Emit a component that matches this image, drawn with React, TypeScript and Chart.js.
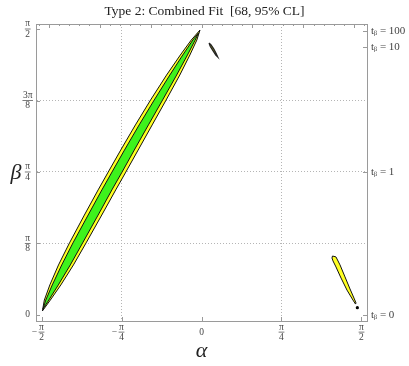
import React, { useEffect, useRef } from "react";
import { Chart, registerables } from "chart.js";

Chart.register(...registerables);

const PI = Math.PI;
const SERIF = "'Liberation Serif', 'DejaVu Serif', serif";

const chartTitle = "Type 2: Combined Fit  [68, 95% CL]";
const xAxisTitle = "α";
const yAxisTitle = "β";

const xTickValues = [-PI / 2, -PI / 4, 0, PI / 4, PI / 2];
const xTickLabels = ["−π/2", "−π/4", "0", "π/4", "π/2"];
const yTickValues = [0, PI / 8, PI / 4, (3 * PI) / 8, PI / 2];
const yTickLabels = ["0", "π/8", "π/4", "3π/8", "π/2"];
const tBetaValues = [0, 1, 10, 100];
const tBetaLabels = ["tᵦ = 0", "tᵦ = 1", "tᵦ = 10", "tᵦ = 100"];
const topMajorTicks = [-1.5, -1, -0.5, 0, 0.5, 1, 1.5];
const topMinorTicks = [-1.6, -1.4, -1.3, -1.2, -1.1, -0.9, -0.8, -0.7, -0.6, -0.4, -0.3, -0.2, -0.1,
  0.1, 0.2, 0.3, 0.4, 0.6, 0.7, 0.8, 0.9, 1.1, 1.2, 1.3, 1.4, 1.6];

// contour outlines [alpha, beta]
const cl68Main: number[][] = [
  [-1.556, 0.033], [-1.499, 0.082], [-1.406, 0.165], [-1.288, 0.275], [-1.167, 0.396],
  [-1.015, 0.549], [-0.880, 0.687], [-0.780, 0.785], [-0.660, 0.906], [-0.521, 1.044],
  [-0.382, 1.181], [-0.244, 1.318], [-0.138, 1.428], [-0.062, 1.510], [-0.029, 1.549],
  [-0.085, 1.510], [-0.184, 1.428], [-0.311, 1.318], [-0.464, 1.181], [-0.612, 1.044],
  [-0.756, 0.906], [-0.879, 0.785], [-0.978, 0.687], [-1.113, 0.549], [-1.262, 0.396],
  [-1.372, 0.275], [-1.465, 0.165], [-1.529, 0.082],
];
const cl95Main: number[][] = [
  [-1.562, 0.022], [-1.484, 0.082], [-1.381, 0.165], [-1.257, 0.275], [-1.133, 0.396],
  [-0.979, 0.549], [-0.842, 0.687], [-0.743, 0.785], [-0.622, 0.906], [-0.484, 1.044],
  [-0.347, 1.181], [-0.213, 1.318], [-0.114, 1.428], [-0.046, 1.510], [-0.015, 1.565],
  [-0.101, 1.510], [-0.208, 1.428], [-0.343, 1.318], [-0.500, 1.181], [-0.649, 1.044],
  [-0.793, 0.906], [-0.916, 0.785], [-1.015, 0.687], [-1.150, 0.549], [-1.296, 0.396],
  [-1.404, 0.275], [-1.489, 0.165], [-1.543, 0.082],
];
const cl95Upper: number[][] = [
  [0.074, 1.494], [0.094, 1.484], [0.120, 1.462], [0.143, 1.438], [0.160, 1.417],
  [0.140, 1.428], [0.112, 1.452], [0.085, 1.476],
];
const cl95Lower: number[][] = [
  [1.286, 0.324], [1.320, 0.319], [1.360, 0.275], [1.409, 0.209], [1.458, 0.143],
  [1.497, 0.093], [1.517, 0.066], [1.512, 0.060], [1.487, 0.082], [1.428, 0.137],
  [1.370, 0.203], [1.320, 0.264], [1.291, 0.297], [1.281, 0.313],
];
const isolatedPoint: number[][] = [[1.530, 0.040]];

const YELLOW = "#FFFF22";
const GREEN = "#3EF21C";
const FRAME = "#9a9a9a";
const GRID = "#b5b5b5";
const LABEL = "#444";

const X_MIN = -1.6248, X_MAX = 1.6248;
const Y_MIN = -0.033, Y_MAX = 1.5983;

function fracLines(label: string): string | string[] {
  const s = label.replace("−", "");
  if (s.includes("/")) return s.split("/");
  return s;
}

const toXY = (pts: number[][], close: boolean) => {
  const d = pts.map(([x, y]) => ({ x, y }));
  if (close) d.push({ x: pts[0][0], y: pts[0][1] });
  return d;
};

const isInterior = (v: number) => Math.abs(v) > 1e-6 && Math.abs(Math.abs(v) - PI / 2) > 1e-6;

const decorPlugin = {
  id: "decor",
  afterDraw(chart: any) {
    const ctx = chart.ctx;
    const area = chart.chartArea;
    const sx = chart.scales.x, sy = chart.scales.y;
    ctx.save();
    // inward frame ticks
    ctx.strokeStyle = FRAME;
    ctx.lineWidth = 1;
    const hTick = (v: number, yEdge: number, len: number) => {
      const px = Math.round(sx.getPixelForValue(v)) + 0.5;
      ctx.beginPath(); ctx.moveTo(px, yEdge); ctx.lineTo(px, yEdge + len); ctx.stroke();
    };
    const vTick = (v: number, xEdge: number, len: number) => {
      const py = Math.round(sy.getPixelForValue(v)) + 0.5;
      ctx.beginPath(); ctx.moveTo(xEdge, py); ctx.lineTo(xEdge + len, py); ctx.stroke();
    };
    xTickValues.forEach((v) => hTick(v, area.bottom, -4));
    topMajorTicks.forEach((v) => hTick(v, area.top, 4));
    topMinorTicks.forEach((v) => hTick(v, area.top, 2));
    yTickValues.forEach((v) => vTick(v, area.left, 4));
    tBetaValues.forEach((t) => vTick(Math.atan(t), area.right, -4));

    // fraction bars and minus signs
    const fracScales: [any, string[]][] = [[sx, xTickLabels], [sy, yTickLabels]];
    fracScales.forEach(([scale, labels]) => {
      const items = scale.getLabelItems();
      items.forEach((item: any, i: number) => {
        if (!Array.isArray(item.label) || item.label.length !== 2) return;
        ctx.font = item.font.string;
        const w = Math.max(...item.label.map((l: string) => ctx.measureText(l).width));
        const [tx, ty] = item.options.translation;
        const barY = ty + item.textOffset + item.font.lineHeight / 2;
        ctx.strokeStyle = LABEL;
        ctx.lineWidth = 0.7;
        ctx.beginPath();
        ctx.moveTo(tx - w / 2 - 0.5, barY);
        ctx.lineTo(tx + w / 2 + 0.5, barY);
        ctx.stroke();
        if (labels[i] && labels[i].startsWith("−")) {
          ctx.fillStyle = LABEL;
          ctx.textAlign = "right";
          ctx.textBaseline = "middle";
          ctx.fillText("−", tx - w / 2 - 2, barY);
        }
      });
    });

    // beta axis title (upright, not rotated)
    ctx.fillStyle = "#222";
    ctx.font = `italic 22px ${SERIF}`;
    ctx.textAlign = "center";
    ctx.textBaseline = "middle";
    ctx.fillText(yAxisTitle, 16, (area.top + area.bottom) / 2 + 0.5);
    ctx.restore();
  },
};

export default function App() {
  const ref = useRef<HTMLCanvasElement | null>(null);
  useEffect(() => {
    if (!ref.current) return;
    const tickFont = { family: SERIF, size: 9.5, lineHeight: 1.08 };
    const chart = new Chart(ref.current, {
      type: "scatter",
      data: {
        datasets: [
          { data: isolatedPoint.map(([x, y]) => ({ x, y })), showLine: false, pointRadius: 1.6, pointBackgroundColor: "#000", pointBorderWidth: 0 },
          { data: toXY(cl68Main, true), showLine: true, fill: "shape", backgroundColor: GREEN, borderColor: "#111", borderWidth: 1 },
          { data: toXY(cl95Main, true), showLine: true, fill: "shape", backgroundColor: YELLOW, borderColor: "#111", borderWidth: 1 },
          { data: toXY(cl95Upper, true), showLine: true, fill: "shape", backgroundColor: "#8a8a20", borderColor: "#222", borderWidth: 1.2 },
          { data: toXY(cl95Lower, true), showLine: true, fill: "shape", backgroundColor: YELLOW, borderColor: "#111", borderWidth: 1 },
        ] as any,
      },
      options: {
        animation: false,
        responsive: false,
        layout: { padding: 0 },
        elements: { line: { tension: 0 }, point: { radius: 0, hoverRadius: 0 } },
        plugins: {
          legend: { display: false },
          tooltip: { enabled: false },
          title: {
            display: true,
            text: chartTitle,
            color: "#222",
            font: { family: SERIF, size: 13.5, weight: "normal" },
            padding: { top: 3, bottom: 4.8 },
          },
        },
        scales: {
          x: {
            type: "linear",
            position: "bottom",
            min: X_MIN,
            max: X_MAX,
            afterBuildTicks: (s: any) => { s.ticks = xTickValues.map((v) => ({ value: v })); },
            afterFit: (s: any) => { s.height = 45; },
            ticks: {
              callback: (_v: any, i: number) => fracLines(xTickLabels[i]),
              font: tickFont,
              color: LABEL,
              padding: 6,
              crossAlign: "center",
              maxRotation: 0,
              autoSkip: false,
            },
            grid: {
              color: (c: any) => (c.tick && isInterior(c.tick.value) ? GRID : "rgba(0,0,0,0)"),
              drawTicks: false,
              lineWidth: 1,
            },
            border: { color: FRAME, dash: [1, 2] },
            title: {
              display: true,
              text: xAxisTitle,
              color: "#222",
              font: { family: SERIF, size: 22, style: "italic" },
              padding: { top: 0, bottom: 2 },
            },
          },
          x2: {
            type: "linear",
            position: "top",
            min: X_MIN,
            max: X_MAX,
            afterFit: (s: any) => { s.height = 0; },
            ticks: { display: false },
            grid: { drawOnChartArea: false, drawTicks: false },
            border: { color: FRAME },
          },
          y: {
            type: "linear",
            position: "left",
            min: Y_MIN,
            max: Y_MAX,
            afterBuildTicks: (s: any) => { s.ticks = yTickValues.map((v) => ({ value: v })); },
            afterFit: (s: any) => { s.width = 36; },
            ticks: {
              callback: (_v: any, i: number) => fracLines(yTickLabels[i]),
              font: tickFont,
              color: LABEL,
              padding: 3.5,
              crossAlign: "center",
              autoSkip: false,
            },
            grid: {
              color: (c: any) => (c.tick && isInterior(c.tick.value) ? GRID : "rgba(0,0,0,0)"),
              drawTicks: false,
              lineWidth: 1,
            },
            border: { color: FRAME, dash: [1, 2] },
          },
          y2: {
            type: "linear",
            position: "right",
            min: Y_MIN,
            max: Y_MAX,
            afterBuildTicks: (s: any) => { s.ticks = tBetaValues.map((t) => ({ value: Math.atan(t) })); },
            afterFit: (s: any) => { s.width = 42; },
            ticks: {
              callback: (_v: any, i: number) => tBetaLabels[i],
              font: { family: SERIF, size: 11 },
              color: LABEL,
              padding: 4,
              autoSkip: false,
            },
            grid: { drawOnChartArea: false, drawTicks: false },
            border: { color: FRAME },
          },
        },
      } as any,
      plugins: [decorPlugin],
    });
    return () => chart.destroy();
  }, []);
  return (
    <div style={{ position: "fixed", left: 0, top: 0, width: 409, height: 366, background: "#fff" }}>
      <canvas ref={ref} width={409} height={366} style={{ display: "block" }} />
    </div>
  );
}
